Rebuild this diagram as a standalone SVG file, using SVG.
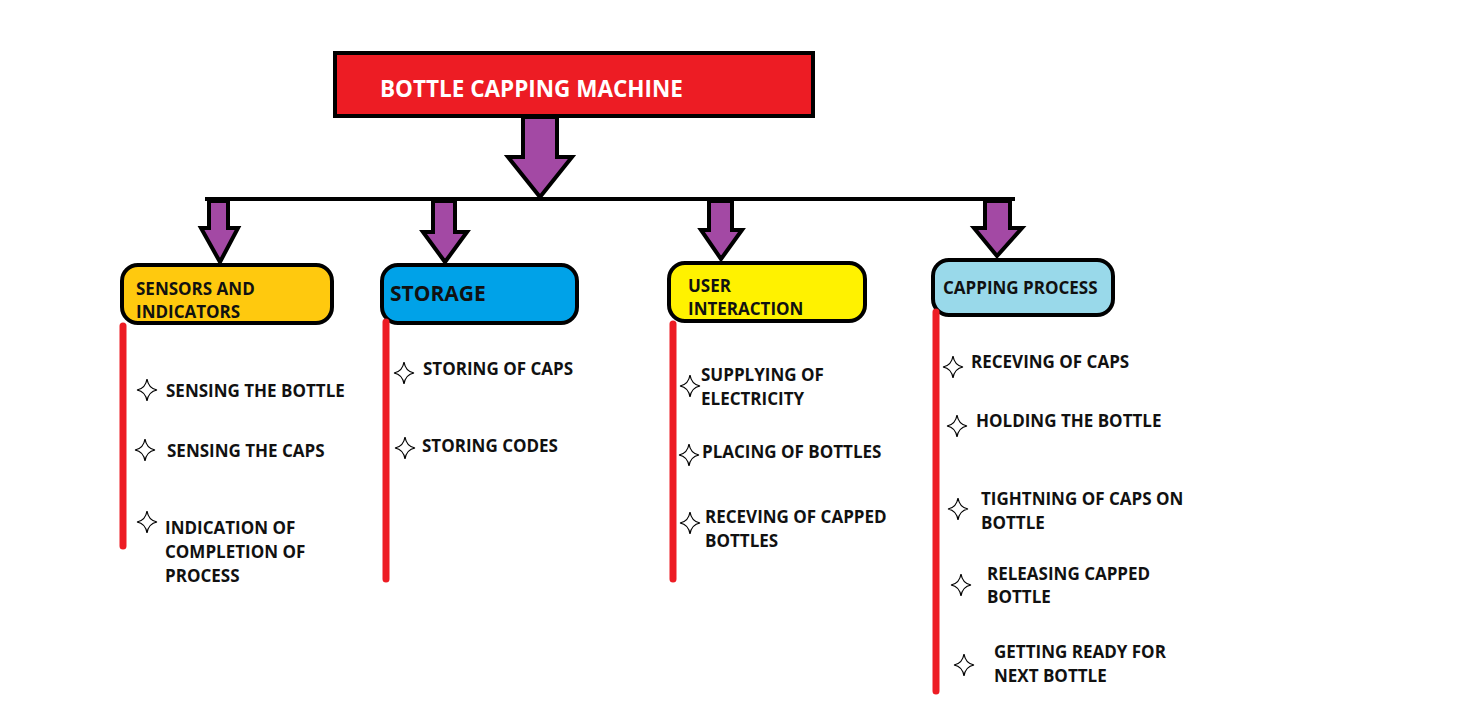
<svg xmlns="http://www.w3.org/2000/svg" width="1467" height="721" viewBox="0 0 1467 721">
<style>
.t{font-family:"Open Sans","Liberation Sans",sans-serif;font-weight:700;font-size:17px;fill:#111}
.h{font-family:"Open Sans","Liberation Sans",sans-serif;font-weight:700;font-size:17px;fill:#111}
.arr{fill:#A349A4;stroke:#000;stroke-width:4;stroke-linejoin:miter}
.box{stroke:#000;stroke-width:4}
.red{stroke:#ED1C24;stroke-width:7;stroke-linecap:round}
.star{fill:#fff;stroke:#000;stroke-width:1.2}
</style>
<defs>
<path id="star" class="star" d="M0,-11 Q1.5,-1.5 10,0 Q1.5,1.5 0,11 Q-1.5,1.5 -10,0 Q-1.5,-1.5 0,-11Z"/>
</defs>
<rect width="1467" height="721" fill="#fff"/>
<g id="title">
<rect x="335" y="53" width="478" height="63" fill="#ED1C24" stroke="#000" stroke-width="4"/>
<text x="380" y="97" font-family="Open Sans, Liberation Sans, sans-serif" font-weight="700" font-size="22.5" fill="#fff">BOTTLE CAPPING MACHINE</text>
</g>
<g id="connectors">
<path class="arr" d="M523,117 L557,117 L557,157 L572,157 L540,197 L508,157 L523,157Z"/>
<line x1="205" y1="199" x2="1015" y2="199" stroke="#000" stroke-width="4"/>
<path class="arr" d="M209,201 L228,201 L228,228 L238,228 L220,262 L201,228 L209,228Z"/>
<path class="arr" d="M433,201 L455,201 L455,232 L467,232 L445,262 L423,232 L433,232Z"/>
<path class="arr" d="M709,201 L732,201 L732,230 L742,230 L721,259 L701,230 L709,230Z"/>
<path class="arr" d="M985,201 L1010,201 L1010,228 L1022,228 L997,256 L974,228 L985,228Z"/>
</g>
<g id="sensors">
<rect class="box" x="122" y="265" width="210" height="58" rx="16" fill="#FFC90E"/>
<text class="h" x="136" y="295">SENSORS AND</text>
<text class="h" x="136" y="318">INDICATORS</text>
<line class="red" x1="123" y1="326" x2="123" y2="546"/>
<use href="#star" x="147" y="390"/>
<text class="t" x="166" y="397">SENSING THE BOTTLE</text>
<use href="#star" x="145" y="450"/>
<text class="t" x="167" y="457">SENSING THE CAPS</text>
<use href="#star" x="147" y="522"/>
<text class="t" x="165" y="534">INDICATION OF</text>
<text class="t" x="165" y="558">COMPLETION OF</text>
<text class="t" x="165" y="582">PROCESS</text>
</g>
<g id="storage">
<rect class="box" x="382" y="265" width="195" height="58" rx="16" fill="#00A2E8"/>
<text class="h" x="390" y="301" style="font-size:21px">STORAGE</text>
<line class="red" x1="386" y1="322" x2="386" y2="579"/>
<use href="#star" x="404" y="373"/>
<text class="t" x="423" y="375">STORING OF CAPS</text>
<use href="#star" x="405" y="448"/>
<text class="t" x="422" y="452">STORING CODES</text>
</g>
<g id="user">
<rect class="box" x="669" y="263" width="196" height="58" rx="16" fill="#FFF200"/>
<text class="h" x="688" y="292">USER</text>
<text class="h" x="688" y="315">INTERACTION</text>
<line class="red" x1="673" y1="324" x2="673" y2="579"/>
<use href="#star" x="690" y="386"/>
<text class="t" x="701" y="381">SUPPLYING OF</text>
<text class="t" x="701" y="405">ELECTRICITY</text>
<use href="#star" x="689" y="455"/>
<text class="t" x="702" y="458">PLACING OF BOTTLES</text>
<use href="#star" x="690" y="523"/>
<text class="t" x="705" y="523">RECEVING OF CAPPED</text>
<text class="t" x="705" y="547">BOTTLES</text>
</g>
<g id="capping">
<rect class="box" x="933" y="260" width="180" height="55" rx="16" fill="#99D9EA"/>
<text class="h" x="943" y="294">CAPPING PROCESS</text>
<line class="red" x1="936" y1="312" x2="936" y2="691"/>
<use href="#star" x="953" y="367"/>
<text class="t" x="971" y="368">RECEVING OF CAPS</text>
<use href="#star" x="957" y="426"/>
<text class="t" x="976" y="427">HOLDING THE BOTTLE</text>
<use href="#star" x="958" y="509"/>
<text class="t" x="981" y="505">TIGHTNING OF CAPS ON</text>
<text class="t" x="981" y="529">BOTTLE</text>
<use href="#star" x="961" y="585"/>
<text class="t" x="987" y="580">RELEASING CAPPED</text>
<text class="t" x="987" y="603">BOTTLE</text>
<use href="#star" x="964" y="665"/>
<text class="t" x="994" y="658">GETTING READY FOR</text>
<text class="t" x="994" y="682">NEXT BOTTLE</text>
</g>
</svg>
